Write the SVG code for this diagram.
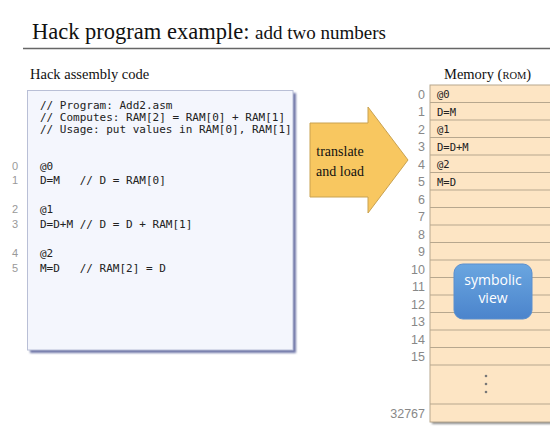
<svg xmlns="http://www.w3.org/2000/svg" width="550" height="438" viewBox="0 0 550 438">
<defs>
<style>
.serif{font-family:"Liberation Serif","Times New Roman",serif;fill:#111}
.mono{font-family:"DejaVu Sans Mono","Liberation Mono",monospace;font-size:11px;fill:#222;white-space:pre}
.ln{font-family:"Liberation Sans",Arial,sans-serif;font-size:11px;fill:#999}
.addr{font-family:"Liberation Sans",Arial,sans-serif;font-size:12.5px;fill:#888;text-anchor:end}
.rt{font-family:"DejaVu Sans Mono","Liberation Mono",monospace;font-size:10.5px;fill:#222}
</style>
<linearGradient id="blue" x1="0" y1="0" x2="0" y2="1">
<stop offset="0" stop-color="#6aa6e0"/>
<stop offset="1" stop-color="#4b84cc"/>
</linearGradient>
<filter id="sh" x="-5%" y="-5%" width="115%" height="115%">
<feGaussianBlur stdDeviation="0.8"/>
</filter>
</defs>
<rect width="550" height="438" fill="#ffffff"/>

<g id="title">
<text x="32" y="39" class="serif" font-size="22.5">Hack program example: <tspan font-size="19">add two numbers</tspan></text>
<line x1="23" y1="48.5" x2="550" y2="48.5" stroke="#666" stroke-width="1.6"/>
</g>

<g id="code">
<text x="30" y="79" class="serif" font-size="14.5">Hack assembly code</text>
<rect x="30" y="93" width="266" height="260" fill="#6f77a8" filter="url(#sh)"/>
<rect x="27.5" y="90.5" width="265.5" height="259.5" fill="#f4f6fd" stroke="#b9bfd6" stroke-width="1"/>
<text class="mono" x="40" y="109" xml:space="preserve">// Program: Add2.asm</text>
<text class="mono" x="40" y="121" xml:space="preserve">// Computes: RAM[2] = RAM[0] + RAM[1]</text>
<text class="mono" x="40" y="133" xml:space="preserve">// Usage: put values in RAM[0], RAM[1]</text>
<text class="mono" x="40" y="170" xml:space="preserve">@0</text>
<text class="mono" x="40" y="184" xml:space="preserve">D=M   // D = RAM[0]</text>
<text class="mono" x="40" y="213" xml:space="preserve">@1</text>
<text class="mono" x="40" y="228" xml:space="preserve">D=D+M // D = D + RAM[1]</text>
<text class="mono" x="40" y="257" xml:space="preserve">@2</text>
<text class="mono" x="40" y="272" xml:space="preserve">M=D   // RAM[2] = D</text>
<text class="ln" x="12" y="170">0</text>
<text class="ln" x="12" y="184">1</text>
<text class="ln" x="12" y="213">2</text>
<text class="ln" x="12" y="228">3</text>
<text class="ln" x="12" y="257">4</text>
<text class="ln" x="12" y="272">5</text>
</g>

<g id="arrow">
<path d="M310,123 L368,123 L368,107 L408,160 L368,213 L368,197 L310,197 Z" fill="#f8c760" stroke="#c9a250" stroke-width="1"/>
<text x="340" y="156" class="serif" font-size="14" text-anchor="middle">translate</text>
<text x="340" y="176" class="serif" font-size="14" text-anchor="middle">and load</text>
</g>

<g id="memory">
<text x="444" y="79" class="serif" font-size="14.5">Memory (<tspan font-size="10.5">ROM</tspan>)</text>
<rect x="432" y="87" width="120" height="337" fill="#8a8a8a" filter="url(#sh)"/>
<rect x="430" y="85" width="122" height="337" fill="#fde5c4" stroke="#b7a78e"/>
<g stroke="#b7a78e" stroke-width="1">
<line x1="430" y1="102.5" x2="550" y2="102.5"/>
<line x1="430" y1="120" x2="550" y2="120"/>
<line x1="430" y1="137.5" x2="550" y2="137.5"/>
<line x1="430" y1="155" x2="550" y2="155"/>
<line x1="430" y1="172.5" x2="550" y2="172.5"/>
<line x1="430" y1="190" x2="550" y2="190"/>
<line x1="430" y1="207.5" x2="550" y2="207.5"/>
<line x1="430" y1="225" x2="550" y2="225"/>
<line x1="430" y1="242.5" x2="550" y2="242.5"/>
<line x1="430" y1="260" x2="550" y2="260"/>
<line x1="430" y1="277.5" x2="550" y2="277.5"/>
<line x1="430" y1="295" x2="550" y2="295"/>
<line x1="430" y1="312.5" x2="550" y2="312.5"/>
<line x1="430" y1="330" x2="550" y2="330"/>
<line x1="430" y1="347.5" x2="550" y2="347.5"/>
<line x1="430" y1="365" x2="550" y2="365"/>
<line x1="430" y1="404" x2="550" y2="404"/>
</g>
<text class="rt" x="437" y="98">@0</text>
<text class="rt" x="437" y="115.5">D=M</text>
<text class="rt" x="437" y="133">@1</text>
<text class="rt" x="437" y="150.5">D=D+M</text>
<text class="rt" x="437" y="168">@2</text>
<text class="rt" x="437" y="185.5">M=D</text>
<text class="addr" x="425" y="98.5">0</text>
<text class="addr" x="425" y="116">1</text>
<text class="addr" x="425" y="133.5">2</text>
<text class="addr" x="425" y="151">3</text>
<text class="addr" x="425" y="168.5">4</text>
<text class="addr" x="425" y="186">5</text>
<text class="addr" x="425" y="203.5">6</text>
<text class="addr" x="425" y="221">7</text>
<text class="addr" x="425" y="238.5">8</text>
<text class="addr" x="425" y="256">9</text>
<text class="addr" x="425" y="273.5">10</text>
<text class="addr" x="425" y="291">11</text>
<text class="addr" x="425" y="308.5">12</text>
<text class="addr" x="425" y="326">13</text>
<text class="addr" x="425" y="343.5">14</text>
<text class="addr" x="425" y="361">15</text>
<text class="addr" x="425" y="418">32767</text>
<g fill="#777">
<circle cx="486" cy="376" r="1.3"/>
<circle cx="486" cy="384" r="1.3"/>
<circle cx="486" cy="392" r="1.3"/>
</g>
</g>

<g id="symbolic">
<rect x="454" y="264" width="78" height="55" rx="9" fill="url(#blue)" stroke="#5a8fcf" stroke-width="1"/>
<text x="493" y="285" font-family="'Open Sans','Liberation Sans',sans-serif" font-size="14" fill="#ffffff" text-anchor="middle">symbolic</text>
<text x="493" y="303" font-family="'Open Sans','Liberation Sans',sans-serif" font-size="14" fill="#ffffff" text-anchor="middle">view</text>
</g>
</svg>
